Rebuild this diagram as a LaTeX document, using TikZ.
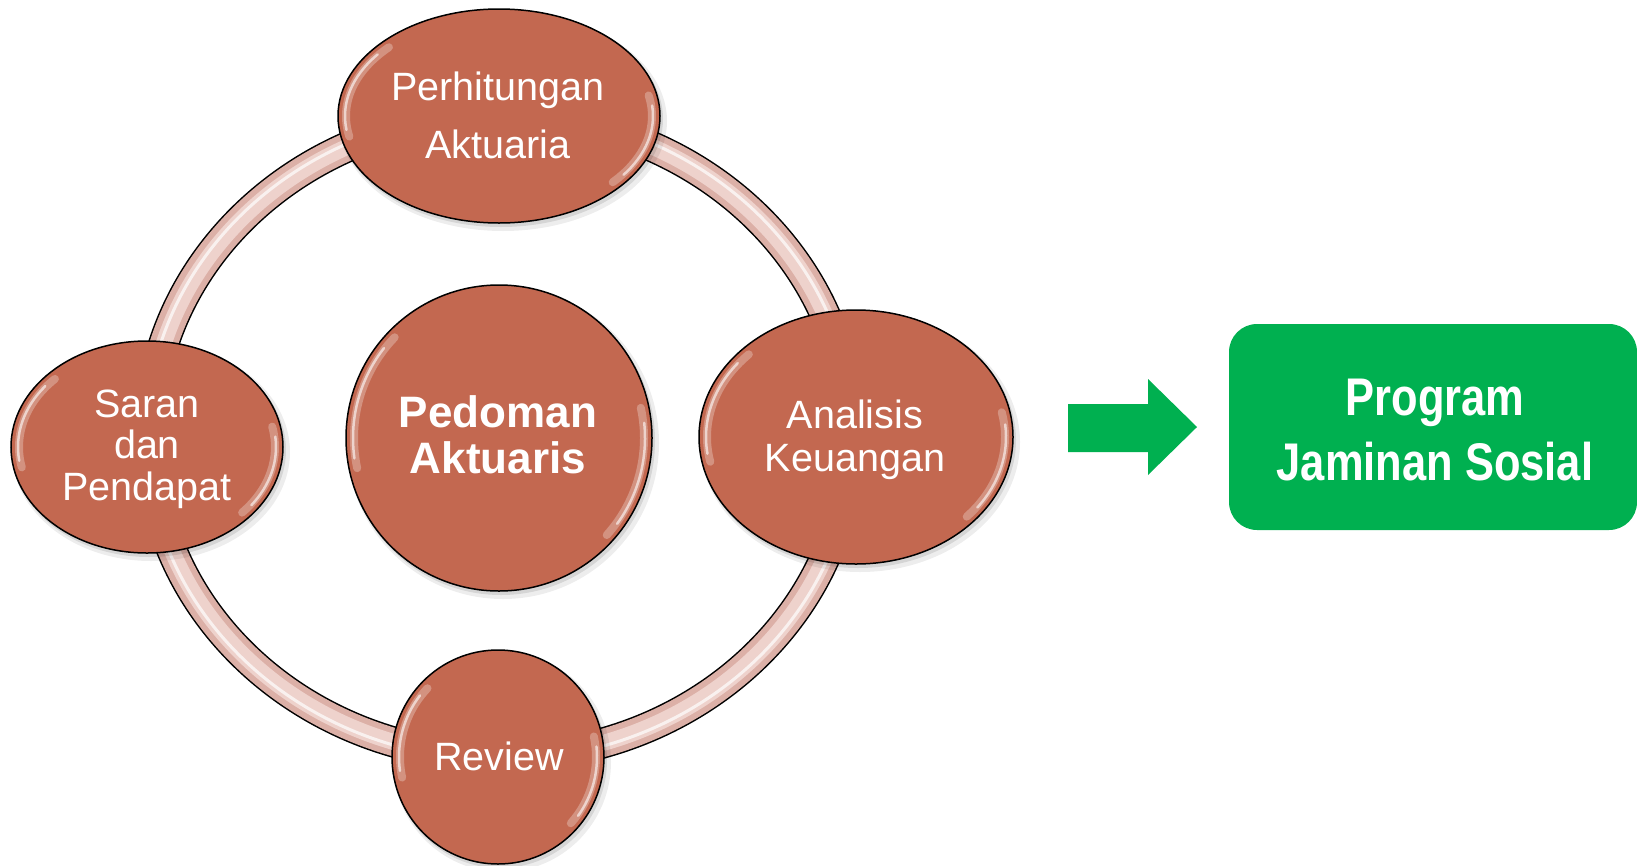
\documentclass[tikz,border=0pt]{standalone}
\usepackage{fontspec}
\setmainfont{Liberation Sans}
\newfontfamily\narrowfont[FakeStretch=0.82]{Liberation Sans}
\usetikzlibrary{shapes.geometric}
\definecolor{nodefill}{RGB}{195,104,80}
\definecolor{ringdark}{RGB}{220,176,167}
\definecolor{ringlight}{RGB}{238,210,204}
\definecolor{jsgreen}{RGB}{0,176,80}
\newcommand\bubshadow[4]{%
  \fill[black,opacity=0.07] (#1+4,#2+5) ellipse[x radius={#3+3}, y radius={#4+3}];
  \fill[black,opacity=0.10] (#1+2,#2+3) ellipse[x radius={#3+1}, y radius={#4+1}];}
\newcommand\gloss[4]{%
  \draw[hlw] (#1,#2) ++(168:{#3-8} and {#4-8}) arc[start angle=168, end angle=224, x radius={#3-8}, y radius={#4-8}];
  \draw[hlc] (#1,#2) ++(172:{#3-7} and {#4-7}) arc[start angle=172, end angle=218, x radius={#3-7}, y radius={#4-7}];
  \draw[hlw] (#1,#2) ++(-12:{#3-8} and {#4-8}) arc[start angle=-12, end angle=42, x radius={#3-8}, y radius={#4-8}];
  \draw[hlc] (#1,#2) ++(-6:{#3-7} and {#4-7}) arc[start angle=-6, end angle=36, x radius={#3-7}, y radius={#4-7}];}
\begin{document}
\begin{tikzpicture}[x=1pt,y=-1pt,
  bubble/.style={ellipse, draw=black, line width=1.5pt, fill=nodefill, inner sep=0pt},
  lbl/.style={text=white, font=\fontsize{39.5}{47}\selectfont, anchor=base, inner sep=0pt},
  blbl/.style={text=white, font=\fontsize{44}{50}\selectfont\bfseries, anchor=base, inner sep=0pt},
  glbl/.style={text=white, font=\narrowfont\fontsize{53}{60}\selectfont\bfseries, anchor=base, inner sep=0pt},
  hlw/.style={white, line cap=round, opacity=0.28, line width=8pt},
  hlc/.style={white, line cap=round, opacity=0.6, line width=2.5pt}]
\useasboundingbox (0,0) rectangle (1637,865);

% ring
\draw[line width=31pt, black] (500,436) ellipse[x radius=351, y radius=321];
\draw[line width=28pt, ringdark] (500,436) ellipse[x radius=351, y radius=321];
\draw[line width=16pt, ringlight] (500,436) ellipse[x radius=351, y radius=321];
\draw[line width=3pt, white, opacity=0.7] (500,436) ellipse[x radius=354, y radius=324];

% shadows
\bubshadow{499}{116}{161}{107}
\bubshadow{147}{447}{136}{106}
\bubshadow{856}{437}{157}{127}
\bubshadow{498}{757}{106}{107}
\bubshadow{499}{438}{153}{153}

% bubbles
\node[bubble, minimum width=322pt, minimum height=214pt] (perh) at (499,116) {};
\node[bubble, minimum width=272pt, minimum height=212pt] (saran) at (147,447) {};
\node[bubble, minimum width=314pt, minimum height=254pt] (anal) at (856,437) {};
\node[bubble, minimum width=212pt, minimum height=214pt] (rev) at (498,757) {};
\node[bubble, minimum width=306pt, minimum height=306pt] (pedo) at (499,438) {};

% gloss
\gloss{499}{116}{161}{107}
\gloss{147}{447}{136}{106}
\gloss{856}{437}{157}{127}
\gloss{498}{757}{106}{107}
\gloss{499}{438}{153}{153}

% texts
\node[lbl] (perh1) at (498,100) {Perhitungan};
\node[lbl] (perh2) at (498,158) {Aktuaria};
\node[lbl] (saran1) at (147,417) {Saran};
\node[lbl] (saran2) at (147,458) {dan};
\node[lbl] (saran3) at (147,500) {Pendapat};
\node[lbl] (anal1) at (855,428) {Analisis};
\node[lbl] (anal2) at (855,471) {Keuangan};
\node[lbl] (rev1) at (499,770) {Review};
\node[blbl] (pedo1) at (498,427) {Pedoman};
\node[blbl] (pedo2) at (498,473) {Aktuaris};

% green arrow and box
\fill[jsgreen] (1068,404) -- (1148,404) -- (1148,379) -- (1197,427) -- (1148,475) -- (1148,452) -- (1068,452) -- cycle;
\node[fill=jsgreen, rounded corners=28pt, minimum width=408pt, minimum height=206pt, inner sep=0pt] (pjs) at (1433,427) {};
\node[glbl] (pjs1) at (1435,415) {Program};
\node[glbl] (pjs2) at (1435,480) {Jaminan Sosial};
\end{tikzpicture}
\end{document}
